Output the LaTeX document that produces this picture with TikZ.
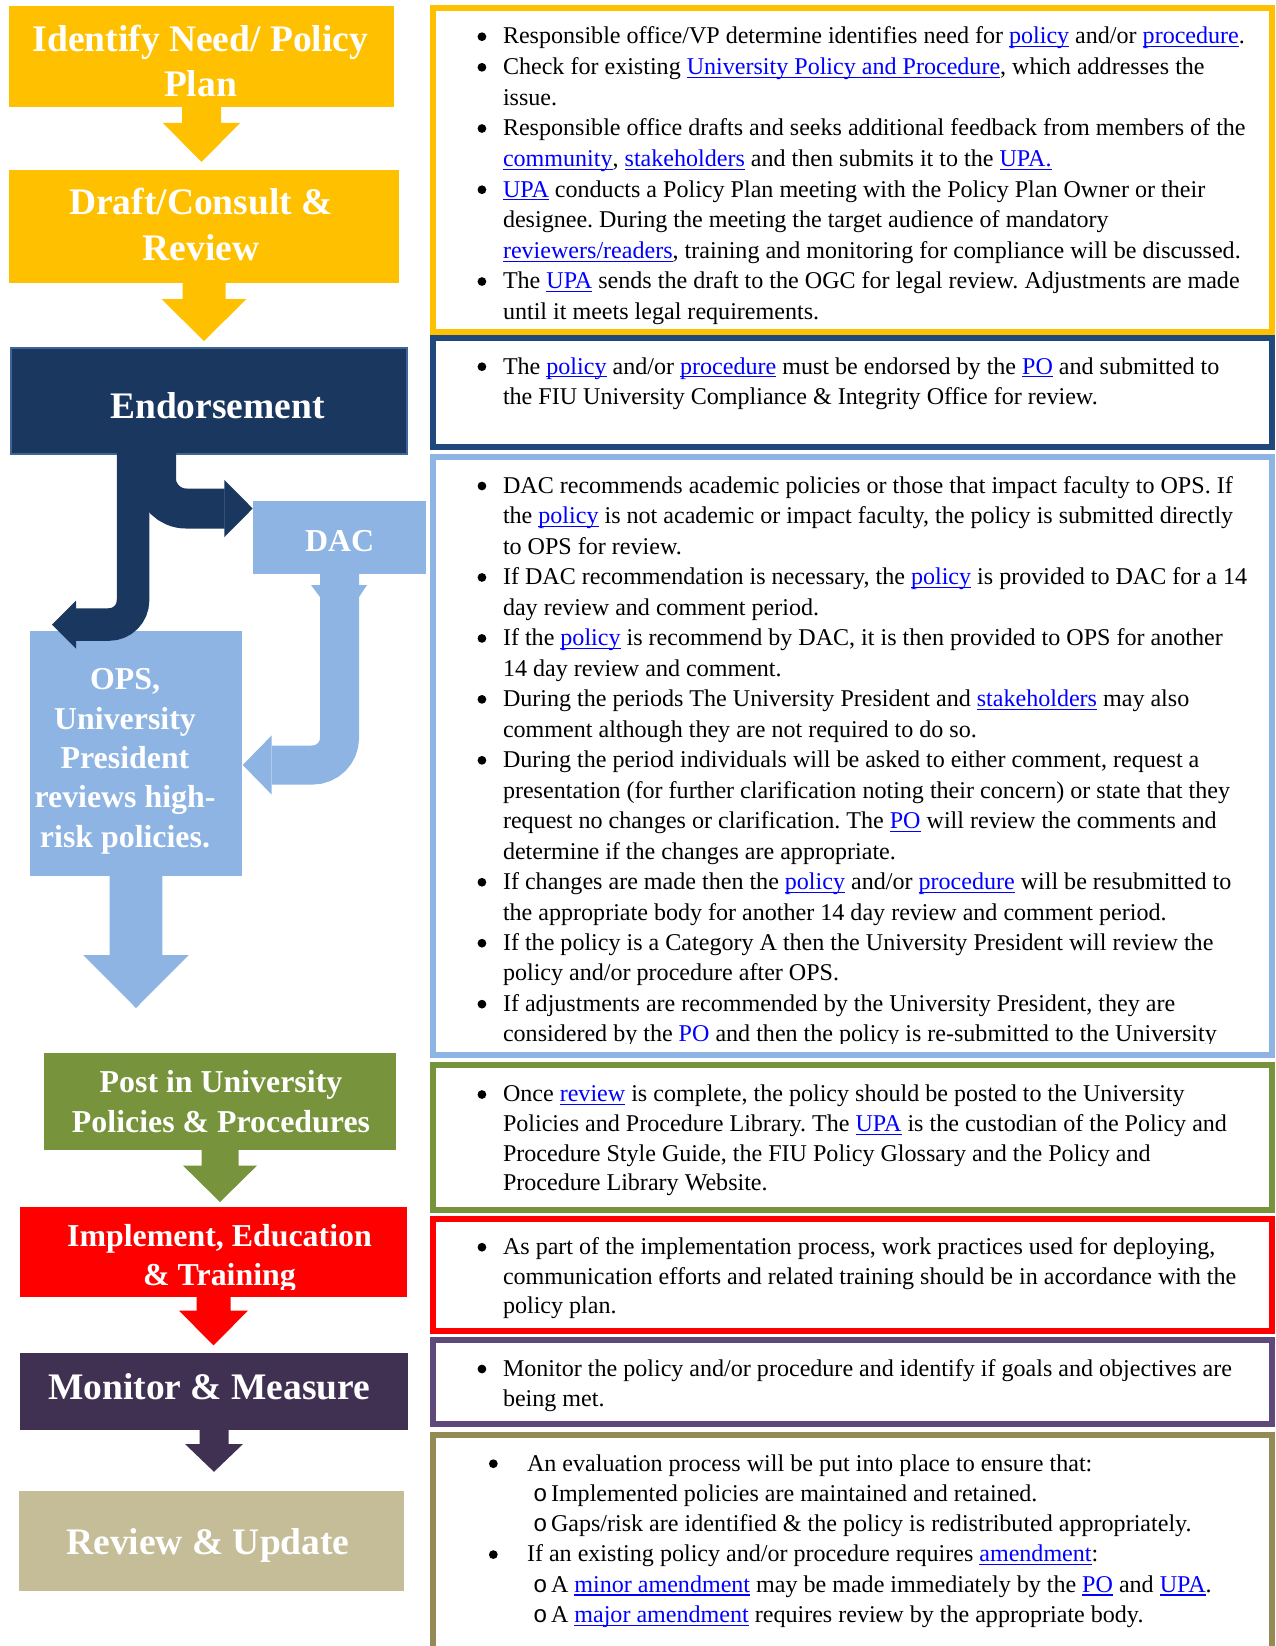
\documentclass[tikz,border=0pt]{standalone}
\usepackage{fontspec}
\setmainfont{Liberation Serif}
\newfontfamily\subbulletfont{Liberation Mono}
\usetikzlibrary{calc}

% one drawing unit = one pixel of a 150 dpi letter page
\newlength\px
\setlength\px{0.48pt}

\definecolor{gold}{HTML}{FFC000}
\definecolor{navy}{HTML}{1A375F}
\definecolor{navyedge}{HTML}{3F6597}
\definecolor{navyframe}{HTML}{1F497D}
\definecolor{ltblue}{HTML}{8EB4E3}
\definecolor{leaf}{HTML}{77933C}
\definecolor{alert}{HTML}{FF0000}
\definecolor{plum}{HTML}{403152}
\definecolor{plumframe}{HTML}{5F497A}
\definecolor{khaki}{HTML}{C4BD97}
\definecolor{khakiframe}{HTML}{948A54}
\definecolor{linkblue}{HTML}{0000FF}

% underlined blue link text
\newcommand\ulink[1]{\leavevmode{\color{linkblue}\setbox0\hbox{#1}\rlap{\rule[-1.6pt]{\wd0}{0.5pt}}\box0}}
% round bullet dot
\newcommand\bulletdot{\tikz[baseline=0pt]\fill[black] (0pt,3.5pt) circle (2.1pt);}
% bullets of the note boxes
\newcommand\bul{\leavevmode\llap{\bulletdot\hspace{16.7\px}}}
\newcommand\bulwide{\leavevmode\llap{\bulletdot\hspace{29.3\px}}}
\newcommand\subpoint{\leavevmode\hspace{6\px}\makebox[18\px][l]{\subbulletfont o}}
% a block of notes: first baseline at the node's base
\newcommand\notes[2]{\parbox[t]{760\px}{\fontsize{11.55pt}{#1}\selectfont\frenchspacing\raggedright #2}}
% centred white stage caption
\newcommand\stagecap[2]{\parbox[t]{#1}{\centering #2}}
% straight block arrow below a stage box:
% node, colour, stem half width, head half width, stem length, total length
\newcommand\stagearrow[6]{%
  \fill[#2, shift={(#1.south)}] (-#3,-1) -- (-#3,#5) -- (-#4,#5) -- (0,#6)
    -- (#4,#5) -- (#3,#5) -- (#3,-1) -- cycle;}

\begin{document}
\begin{tikzpicture}[x=0.48pt, y=-0.48pt,
  stage/.style={rectangle, anchor=north west, inner sep=0pt, outer sep=0pt},
  frame/.style={rectangle, anchor=north west, inner sep=0pt, outer sep=0pt,
    line width=6\px, fill=white, minimum width=839\px},
  bigcap/.style={anchor=base, inner sep=0pt, text=white,
    font=\fontsize{18pt}{21.6pt}\selectfont\bfseries},
  midcap/.style={anchor=base, inner sep=0pt, text=white,
    font=\fontsize{15.3pt}{18.9pt}\selectfont\bfseries},
  notetext/.style={anchor=base west, inner sep=0pt, outer sep=0pt}]
\useasboundingbox (0,0) rectangle (1275,1646);

% ---------------- right column: note frames ----------------
\node[frame, draw=gold, minimum height=324\px] (planbox) at (433,8) {};
\node[frame, draw=navyframe, minimum height=109\px] (endorsebox) at (433,338) {};
\node[frame, draw=ltblue, minimum height=598\px] (reviewbox) at (433,457) {};
\node[frame, draw=leaf, minimum height=145\px] (postbox) at (433,1065) {};
\node[frame, draw=alert, minimum height=112\px] (trainbox) at (433,1219) {};
\node[frame, draw=plumframe, minimum height=84\px] (monitorbox) at (433,1340) {};
\node[frame, draw=khakiframe, minimum height=240\px] (updatebox) at (433,1435) {};

% ---------------- right column: notes ----------------
\node[notetext] (plannotes) at (503,44) {\notes{14.69pt}{%
\bul Responsible office/VP determine identifies need for \ulink{policy} and/or \ulink{procedure}.\par
\bul Check for existing \ulink{University Policy and Procedure}, which addresses the\\
issue.\par
\bul Responsible office drafts and seeks additional feedback from members of the\\
\ulink{community}, \ulink{stakeholders} and then submits it to the \ulink{UPA.}\par
\bul \ulink{UPA} conducts a Policy Plan meeting with the Policy Plan Owner or their\\
designee. During the meeting the target audience of mandatory\\
\ulink{reviewers/readers}, training and monitoring for compliance will be discussed.\par
\bul The \ulink{UPA} sends the draft to the OGC for legal review. Adjustments are made\\
until it meets legal requirements.}};

\node[notetext] (endorsenotes) at (503,374) {\notes{14.4pt}{%
\bul The \ulink{policy} and/or \ulink{procedure} must be endorsed by the \ulink{PO} and submitted to\\
the FIU University Compliance \& Integrity Office for review.}};

\begin{scope}
\clip (433,457) rectangle (1272,1043);
\node[notetext] (reviewnotes) at (503,493.3) {\notes{14.63pt}{%
\bul DAC recommends academic policies or those that impact faculty to OPS. If\\
the \ulink{policy} is not academic or impact faculty, the policy is submitted directly\\
to OPS for review.\par
\bul If DAC recommendation is necessary, the \ulink{policy} is provided to DAC for a 14\\
day review and comment period.\par
\bul If the \ulink{policy} is recommend by DAC, it is then provided to OPS for another\\
14 day review and comment.\par
\bul During the periods The University President and \ulink{stakeholders} may also\\
comment although they are not required to do so.\par
\bul During the period individuals will be asked to either comment, request a\\
presentation (for further clarification noting their concern) or state that they\\
request no changes or clarification. The \ulink{PO} will review the comments and\\
determine if the changes are appropriate.\par
\bul If changes are made then the \ulink{policy} and/or \ulink{procedure} will be resubmitted to\\
the appropriate body for another 14 day review and comment period.\par
\bul If the policy is a Category A then the University President will review the\\
policy and/or procedure after OPS.\par
\bul If adjustments are recommended by the University President, they are\\
considered by the \ulink{PO} and then the policy is re-submitted to the University}};
\end{scope}

\node[notetext] (postnotes) at (503,1101.8) {\notes{14.26pt}{%
\bul Once \ulink{review} is complete, the policy should be posted to the University\\
Policies and Procedure Library. The \ulink{UPA} is the custodian of the Policy and\\
Procedure Style Guide, the FIU Policy Glossary and the Policy and\\
Procedure Library Website.}};

\node[notetext] (trainnotes) at (503,1254.5) {\notes{14.2pt}{%
\bul As part of the implementation process, work practices used for deploying,\\
communication efforts and related training should be in accordance with the\\
policy plan.}};

\node[notetext] (monitornotes) at (503,1376.3) {\notes{14.26pt}{%
\bul Monitor the policy and/or procedure and identify if goals and objectives are\\
being met.}};

\node[notetext] (updatenotes) at (527,1471) {\notes{14.54pt}{%
\bulwide An evaluation process will be put into place to ensure that:\par
\subpoint Implemented policies are maintained and retained.\par
\subpoint Gaps/risk are identified \& the policy is redistributed appropriately.\par
\bulwide If an existing policy and/or procedure requires \ulink{amendment}:\par
\subpoint A \ulink{minor amendment} may be made immediately by the \ulink{PO} and \ulink{UPA}.\par
\subpoint A \ulink{major amendment} requires review by the appropriate body.}};

% ---------------- left column: stage boxes ----------------
\node[stage, fill=gold, minimum width=385\px, minimum height=101\px] (identify) at (9,6) {};
\node[stage, fill=gold, minimum width=390\px, minimum height=113\px] (draft) at (9,170) {};
\node[stage, fill=navy, draw=navyedge, line width=2\px, minimum width=396\px, minimum height=106\px] (endorse) at (11,348) {};
\node[stage, fill=ltblue, minimum width=173\px, minimum height=73.5\px] (dac) at (253,500.5) {};
\node[stage, fill=ltblue, minimum width=212\px, minimum height=245\px] (ops) at (30,631) {};
\node[stage, fill=leaf, minimum width=352\px, minimum height=97\px] (post) at (44,1053) {};
\node[stage, fill=alert, minimum width=387\px, minimum height=89.6\px] (implement) at (20,1207.4) {};
\node[stage, fill=plum, minimum width=388\px, minimum height=77.4\px] (monitor) at (20,1353) {};
\node[stage, fill=khaki, minimum width=385\px, minimum height=100\px] (update) at (19,1491) {};

% ---------------- left column: straight block arrows ----------------
\stagearrow{identify}{gold}{19.5}{38.5}{16}{55}
\stagearrow{draft}{gold}{21.5}{42.5}{16}{58}
\stagearrow{ops}{ltblue}{26.3}{52.8}{79}{132}
\stagearrow{post}{leaf}{18.5}{37}{15.6}{52}
\stagearrow{implement}{alert}{17}{34.5}{13.6}{48.4}
\stagearrow{monitor}{plum}{14.5}{29}{13.6}{41.4}

% ---------------- bent arrows: endorsement to DAC and OPS ----------------
\coordinate (dacin) at (252.7,508.5);
\coordinate (opsin) at (52,624.5);
\coordinate (opsside) at (242.7,765);

\draw[navy, line width=40\px, rounded corners=30\px]
  ($(endorse.south west)+(145,-2)$) |- ($(dacin)+(-28.2,0)$);
\fill[navy] ($(dacin)+(-28.4,-28.7)$) -- (dacin) -- ($(dacin)+(-28.4,28.7)$) -- cycle;

\draw[navy, line width=32.5\px, rounded corners=24\px]
  ($(endorse.south west)+(122,-2)$) |- ($(opsin)+(24.2,0)$);
\fill[navy] ($(opsin)+(24,-24)$) -- (opsin) -- ($(opsin)+(24,24)$) -- cycle;

% DAC back to OPS
\fill[ltblue] ($(dac.south)+(-28.5,11)$) -- ($(dac.south)+(27.5,11)$)
  -- ($(dac.south)+(19.5,23)$) -- ($(dac.south)+(-19.5,23)$) -- cycle;
\draw[ltblue, line width=39\px, rounded corners=27\px]
  ($(dac.south)+(0,-1)$) |- ($(opsside)+(29.2,0)$);
\fill[ltblue] ($(opsside)+(29,-29.6)$) -- (opsside) -- ($(opsside)+(29,29.6)$) -- cycle;

% ---------------- stage captions ----------------
\node[bigcap] (identifytext) at (200.5,51.7) {\stagecap{400\px}{Identify Need/ Policy\\Plan}};
\node[bigcap, font=\fontsize{18pt}{22.4pt}\selectfont\bfseries] (drafttext) at (201,214.3) {\stagecap{400\px}{Draft/Consult \&\\Review}};
\node[bigcap] (endorsetext) at (217.5,418.3) {Endorsement};
\node[midcap] (dactext) at (339.7,551.7) {DAC};
\node[midcap] (opstext) at (125,689.7) {\stagecap{240\px}{OPS,\\University\\President\\reviews high-\\risk policies.}};
\node[midcap, font=\fontsize{15.3pt}{19.6pt}\selectfont\bfseries] (posttext) at (221,1092) {\stagecap{400\px}{Post in University\\Policies \& Procedures}};
\begin{scope}
\clip (20,1207) rectangle (407,1289.5);
\node[midcap, font=\fontsize{15.3pt}{18.6pt}\selectfont\bfseries] (implementtext) at (219.5,1246.8) {\stagecap{400\px}{Implement, Education\\\& Training}};
\end{scope}
\node[bigcap] (monitortext) at (209.3,1399.5) {Monitor \& Measure};
\node[bigcap] (updatetext) at (208,1554) {Review \& Update};
\end{tikzpicture}
\end{document}
